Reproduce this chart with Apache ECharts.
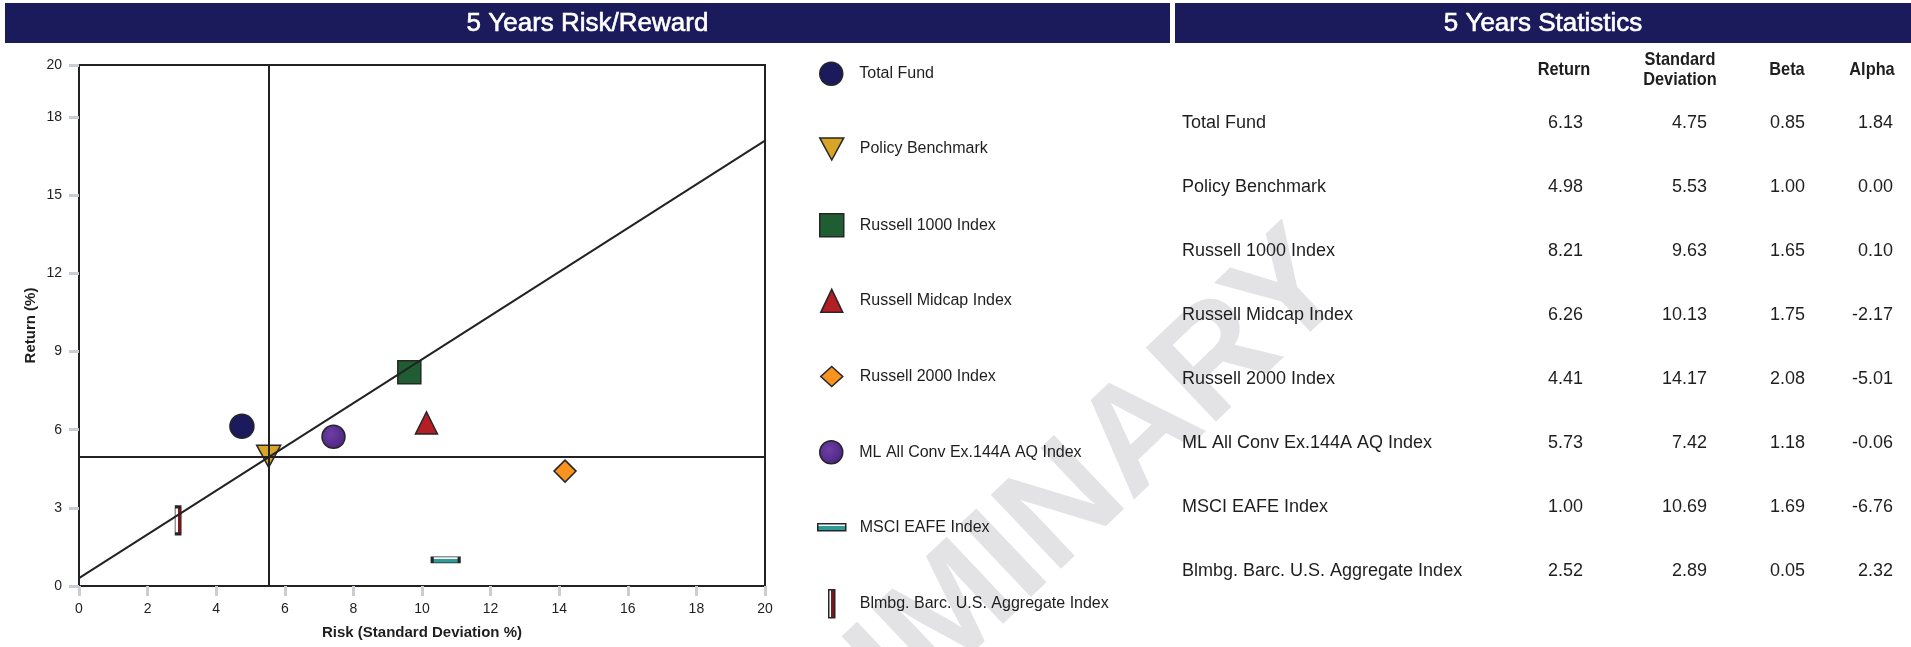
<!DOCTYPE html>
<html>
<head>
<meta charset="utf-8">
<script src="https://cdn.jsdelivr.net/npm/echarts@6/dist/echarts.min.js"></script>
<style>
html,body{margin:0;padding:0;background:#ffffff;}
#c{width:1911px;height:647px;}
</style>
</head>
<body>
<div id="c"></div>
<script>
// ---------------- DATA ----------------
const names = ['Total Fund','Policy Benchmark','Russell 1000 Index','Russell Midcap Index','Russell 2000 Index','ML All Conv Ex.144A AQ Index','MSCI EAFE Index','Blmbg. Barc. U.S. Aggregate Index'];
const returns = [6.13, 4.98, 8.21, 6.26, 4.41, 5.73, 1.00, 2.52];
const stdDevs = [4.75, 5.53, 9.63, 10.13, 14.17, 7.42, 10.69, 2.89];
const betas   = [0.85, 1.00, 1.65, 1.75, 2.08, 1.18, 1.69, 0.05];
const alphas  = [1.84, 0.00, 0.10, -2.17, -5.01, -0.06, -6.76, 2.32];
const cmlRisk   = [0, 20];
const cmlReturn = [0.3, 17.1];
const columnHeaders = ['Return', 'Standard\nDeviation', 'Beta', 'Alpha'];
const panelTitles = ['5 Years Risk/Reward', '5 Years Statistics'];
const xAxisTitle = 'Risk (Standard Deviation %)';
const yAxisTitle = 'Return (%)';
const watermarkText = 'PRELIMINARY';

// ---------------- STYLES ----------------
const FONT = "'Liberation Sans', Arial, Helvetica, sans-serif";
const INK = '#1e1e1e';
const NAVY = '#1b1b5c';
const EDGE = '#262626';

const G = echarts.graphic;
const markerStyles = [
  { symbol: 'circle', size: [24, 24], legend: [24, 23], fill: '#1b1a5c' },
  { symbol: 'path://M0,0L10,0L5,9.2Z', size: [24, 22], legend: [24, 23], fill: '#d9a526' },
  { symbol: 'rect', size: [23, 23], legend: [24, 23], fill: '#1f5e32' },
  { symbol: 'triangle', size: [22, 22], legend: [22, 23], fill: '#b31f25' },
  { symbol: 'diamond', size: [22, 22], legend: [22, 20], fill: '#f7931e' },
  { symbol: 'circle', size: [23, 23], legend: [24, 23],
    fill: new G.RadialGradient(0.4, 0.4, 0.65, [{offset: 0, color: '#6e3fa6'}, {offset: 1, color: '#4b2380'}]) },
  { symbol: 'rect', size: [27, 6], legend: [28, 7],
    fill: new G.LinearGradient(0, 0, 0, 1, [{offset: 0, color: '#ffffff'}, {offset: 0.4, color: '#ffffff'}, {offset: 0.4, color: '#2e9b9b'}, {offset: 1, color: '#2e9b9b'}]) },
  { symbol: 'rect', size: [6, 27], legend: [6, 28],
    fill: new G.LinearGradient(0, 0, 1, 0, [{offset: 0, color: '#ffffff'}, {offset: 0.45, color: '#ffffff'}, {offset: 0.45, color: '#7d161b'}, {offset: 1, color: '#7d161b'}]) }
];

// ---------------- SERIES ----------------
const series = names.map((n, i) => ({
  type: 'scatter',
  name: n,
  data: [[stdDevs[i], returns[i]]],
  symbol: markerStyles[i].symbol,
  symbolSize: markerStyles[i].size,
  itemStyle: { color: markerStyles[i].fill, borderColor: EDGE, borderWidth: 1.5, opacity: 1 },
  z: 2,
  silent: true,
  emphasis: { disabled: true }
}));
series.push({
  type: 'line',
  name: 'Market Line',
  data: cmlRisk.map((x, i) => [x, cmlReturn[i]]),
  symbol: 'none',
  lineStyle: { color: '#222', width: 2 },
  z: 3,
  silent: true,
  markLine: {
    silent: true,
    symbol: ['none', 'none'],
    label: { show: false },
    lineStyle: { color: '#222', width: 2, type: 'solid' },
    data: [{ xAxis: stdDevs[1] }, { yAxis: returns[1] }],
    animation: false
  }
});

// ---------------- LEGENDS (one per item for exact icon sizes) ----------------
const legends = names.map((n, i) => {
  const [w, h] = markerStyles[i].legend;
  const cy = 73 + i * 75.7;
  return {
    data: [{ name: n, icon: markerStyles[i].symbol }],
    left: 831 - w / 2,
    top: cy - Math.max(h, 16) / 2,
    itemWidth: w,
    itemHeight: h,
    padding: 0,
    selectedMode: false,
    orient: 'vertical',
    textStyle: { fontSize: 16, color: INK, fontFamily: FONT, padding: [0, 0, 0, 23 - w / 2] },
    itemStyle: { borderColor: EDGE, borderWidth: 1.5 }
  };
});

// ---------------- GRAPHICS: headers, table, watermark ----------------
function txt(x, y, text, o, extra) {
  return Object.assign({
    type: 'text', x: x, y: y, z: 10, silent: true,
    style: Object.assign({
      text: text, fill: INK, fontSize: 18, fontFamily: FONT,
      align: 'left', textAlign: 'left', verticalAlign: 'middle', textVerticalAlign: 'middle'
    }, o || {})
  }, extra || {});
}
const graphics = [];
graphics.push({
  type: 'text', x: 958, y: 610, z: 0, silent: true, rotation: 43.5 * Math.PI / 180,
  style: { text: watermarkText, fill: '#e3e3e5', fontSize: 148, fontWeight: 'bold', fontFamily: FONT,
           align: 'center', textAlign: 'center', verticalAlign: 'middle', textVerticalAlign: 'middle' }
});
graphics.push({ type: 'rect', z: 5, silent: true, shape: { x: 5, y: 3, width: 1165, height: 40 }, style: { fill: NAVY } });
graphics.push({ type: 'rect', z: 5, silent: true, shape: { x: 1175, y: 3, width: 736, height: 40 }, style: { fill: NAVY } });
const headStyle = { fill: '#ffffff', fontSize: 26, align: 'center', textAlign: 'center', stroke: '#ffffff', lineWidth: 0.6 };
graphics.push(txt(587.5, 23.5, panelTitles[0], headStyle));
graphics.push(txt(1543, 23.5, panelTitles[1], headStyle));

const colCenters = [1564, 1680, 1787, 1872];
const colRights = [1583, 1707, 1805, 1893];
columnHeaders.forEach((h, j) => {
  graphics.push(txt(colCenters[j], 70, h,
    { fontWeight: 'bold', fontSize: 19, lineHeight: 19.5, align: 'center', textAlign: 'center' },
    { scaleX: 0.86 }));
});
const cols = [returns, stdDevs, betas, alphas];
names.forEach((n, i) => {
  const y = 123 + i * 64;
  graphics.push(txt(1182, y, n));
  cols.forEach((arr, j) => {
    graphics.push(txt(colRights[j], y, arr[i].toFixed(2), { align: 'right', textAlign: 'right' }));
  });
});

// ---------------- CHART ----------------
const chart = echarts.init(document.getElementById('c'), null, { renderer: 'canvas', width: 1911, height: 647 });
chart.setOption({
  animation: false,
  backgroundColor: '#ffffff',
  grid: {
    left: 79, right: 1146, top: 65, bottom: 61,
    containLabel: false, outerBoundsMode: 'none',
    show: true, borderColor: '#222', borderWidth: 2, backgroundColor: 'transparent'
  },
  xAxis: {
    type: 'value', min: 0, max: 20, interval: 2,
    name: xAxisTitle, nameLocation: 'middle', nameGap: 39,
    nameTextStyle: { fontFamily: FONT, fontWeight: 'bold', fontSize: 15, color: INK },
    axisLine: { show: true, onZero: false, lineStyle: { color: '#222', width: 2 } },
    axisTick: { show: true, inside: false, length: 10, lineStyle: { color: '#c9ced4', width: 3 } },
    axisLabel: { fontSize: 14, color: INK, fontFamily: FONT, margin: 16 },
    splitLine: { show: false }
  },
  yAxis: {
    type: 'value', min: 0, max: 20, interval: 3,
    name: yAxisTitle, nameLocation: 'middle', nameGap: 41, nameRotate: 90,
    nameTextStyle: { fontFamily: FONT, fontWeight: 'bold', fontSize: 15, color: INK },
    axisLine: { show: true, onZero: false, lineStyle: { color: '#222', width: 2 } },
    axisTick: { show: true, inside: false, length: 10, lineStyle: { color: '#c9ced4', width: 3 } },
    axisLabel: { fontSize: 14, color: INK, fontFamily: FONT, margin: 17, showMaxLabel: true },
    splitLine: { show: false }
  },
  legend: legends,
  graphic: { elements: graphics },
  series: series
});
</script>
</body>
</html>
